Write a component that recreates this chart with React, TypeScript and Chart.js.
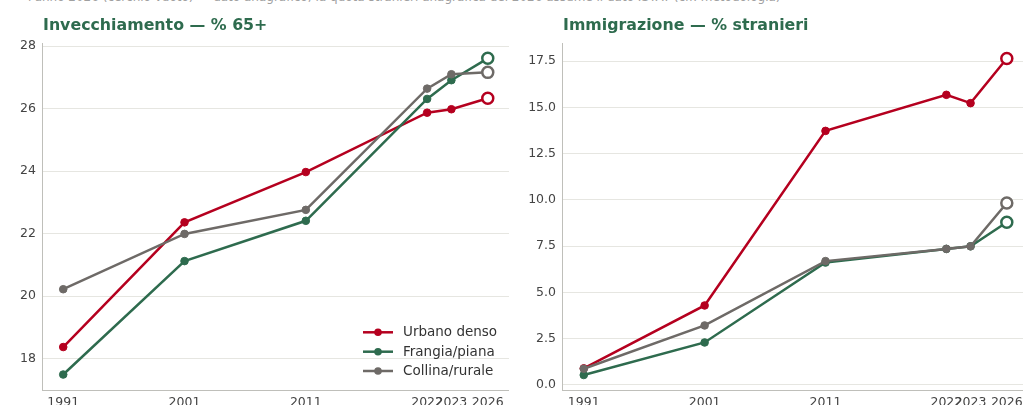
import React, { useEffect, useRef } from "react";
import { Chart, registerables } from "chart.js";

Chart.register(...registerables);

const positions = [0, 1, 2, 3, 3.2, 3.5];
const yearLabels = ["1991", "2001", "2011", "2022", "2023", "2026"];
const seriesNames = ["Urbano denso", "Frangia/piana", "Collina/rurale"];
const seriesColors = ["#b5001f", "#2e6b4e", "#6e6a67"];

const agingUrbano = [18.37, 22.36, 23.97, 25.87, 25.98, 26.33];
const agingFrangia = [17.49, 21.12, 22.41, 26.31, 26.91, 27.61];
const agingCollina = [20.22, 21.99, 22.76, 26.64, 27.1, 27.16];

const foreignUrbano = [0.89, 4.29, 13.73, 15.68, 15.23, 17.64];
const foreignFrangia = [0.53, 2.29, 6.61, 7.35, 7.49, 8.79];
const foreignCollina = [0.87, 3.21, 6.69, 7.35, 7.49, 9.83];

const agingTicks = [18, 20, 22, 24, 26, 28];
const foreignTicks = [0, 2.5, 5, 7.5, 10, 12.5, 15, 17.5];

const FONT = "'DejaVu Sans', sans-serif";

function makeDatasets(series: number[][]) {
  return series.map((vals, i) => {
    const last = vals.length - 1;
    return {
      label: seriesNames[i],
      data: vals.map((v, j) => ({ x: positions[j], y: v })),
      borderColor: seriesColors[i],
      backgroundColor: seriesColors[i],
      borderWidth: 2.5,
      tension: 0,
      order: 3 - i,
      pointRadius: (c: any) => (c.dataIndex === last ? 5.5 : 3.8),
      pointBorderWidth: (c: any) => (c.dataIndex === last ? 2.5 : 1),
      pointBackgroundColor: (c: any) => (c.dataIndex === last ? "#ffffff" : seriesColors[i]),
      pointBorderColor: seriesColors[i],
      pointHoverRadius: 5,
    };
  });
}

function makeConfig(opts: {
  series: number[][];
  title: string;
  yTicks: number[];
  yMin: number;
  yMax: number;
  xMin: number;
  xMax: number;
  yWidth: number;
  top: number;
  decimals: number;
  legend: boolean;
}): any {
  const titlePlugin = {
    id: "panelTitle",
    afterDraw(chart: any) {
      const ctx = chart.ctx;
      ctx.save();
      ctx.font = `bold 15.8px ${FONT}`;
      ctx.fillStyle = "#2e6b4e";
      ctx.textAlign = "left";
      ctx.textBaseline = "alphabetic";
      ctx.fillText(opts.title, chart.chartArea.left + 1, 29.5);
      if (opts.legend) {
        const x0 = 363;
        const ys = [332.3, 351.7, 371];
        ctx.font = `13.5px ${FONT}`;
        seriesNames.forEach((name, i) => {
          const y = ys[i];
          ctx.strokeStyle = seriesColors[i];
          ctx.lineWidth = 2.5;
          ctx.beginPath();
          ctx.moveTo(x0, y);
          ctx.lineTo(x0 + 30, y);
          ctx.stroke();
          ctx.fillStyle = seriesColors[i];
          ctx.beginPath();
          ctx.arc(x0 + 15, y, 3.8, 0, Math.PI * 2);
          ctx.fill();
          ctx.fillStyle = "#333333";
          ctx.textBaseline = "middle";
          ctx.fillText(name, x0 + 40, y + 0.5);
        });
      }
      ctx.restore();
    },
  };

  return {
    type: "line",
    data: { datasets: makeDatasets(opts.series) },
    plugins: [titlePlugin],
    options: {
      animation: false,
      responsive: false,
      maintainAspectRatio: false,
      layout: { padding: { top: opts.top, left: 0, right: 0, bottom: 0 }, autoPadding: false },
      plugins: { legend: { display: false }, tooltip: { enabled: false }, title: { display: false } },
      scales: {
        x: {
          type: "linear",
          min: opts.xMin,
          max: opts.xMax,
          afterBuildTicks: (s: any) => {
            s.ticks = positions.map((v) => ({ value: v }));
          },
          afterFit: (s: any) => {
            s.height = 15;
          },
          grid: { display: false },
          border: { display: true, color: "#bfbfba", width: 1 },
          ticks: {
            autoSkip: false,
            maxRotation: 0,
            minRotation: 0,
            padding: -3,
            color: "#444444",
            font: { family: FONT, size: 12.5 },
            callback: (v: any) => {
              const idx = positions.indexOf(Number(v));
              return idx >= 0 ? yearLabels[idx] : "";
            },
          },
        },
        y: {
          type: "linear",
          min: opts.yMin,
          max: opts.yMax,
          afterBuildTicks: (s: any) => {
            s.ticks = opts.yTicks.map((v) => ({ value: v }));
          },
          afterFit: (s: any) => {
            s.width = opts.yWidth;
          },
          grid: { display: true, color: "#e6e6e1", lineWidth: 1, drawTicks: false, tickLength: 0 },
          border: { display: true, color: "#bfbfba", width: 1 },
          ticks: {
            padding: 6,
            color: "#444444",
            font: { family: FONT, size: 12.5 },
            callback: (v: any) => Number(v).toFixed(opts.decimals),
          },
        },
      },
    },
  };
}

export default function App() {
  const leftRef = useRef<HTMLCanvasElement | null>(null);
  const rightRef = useRef<HTMLCanvasElement | null>(null);

  useEffect(() => {
    const left = new Chart(
      leftRef.current as HTMLCanvasElement,
      makeConfig({
        series: [agingUrbano, agingFrangia, agingCollina],
        title: "Invecchiamento — % 65+",
        yTicks: agingTicks,
        yMin: 16.995,
        yMax: 28.1,
        xMin: -0.175,
        xMax: 3.675,
        yWidth: 42,
        top: 43,
        decimals: 0,
        legend: true,
      })
    );
    const right = new Chart(
      rightRef.current as HTMLCanvasElement,
      makeConfig({
        series: [foreignUrbano, foreignFrangia, foreignCollina],
        title: "Immigrazione — % stranieri",
        yTicks: foreignTicks,
        yMin: -0.28,
        yMax: 18.45,
        xMin: -0.18,
        xMax: 3.634,
        yWidth: 47,
        top: 43.6,
        decimals: 1,
        legend: false,
      })
    );
    return () => {
      left.destroy();
      right.destroy();
    };
  }, []);

  return (
    <div
      style={{
        position: "fixed",
        left: 0,
        top: 0,
        width: 1023,
        height: 405,
        overflow: "hidden",
        background: "#ffffff",
        fontFamily: FONT,
      }}
    >
      <div
        style={{
          position: "absolute",
          left: 28,
          top: -10,
          fontSize: 12,
          lineHeight: "14px",
          color: "#a0a0a0",
          whiteSpace: "nowrap",
        }}
      >
        l'anno 2026 (cerchio vuoto) — dato anagrafico; la quota stranieri anagrafica del 2026 assume il dato ISTAT (cfr. metodologia)
      </div>
      <canvas
        ref={leftRef}
        width={509}
        height={405}
        style={{ position: "absolute", left: 0, top: 0, width: 509, height: 405 }}
      />
      <canvas
        ref={rightRef}
        width={508}
        height={405}
        style={{ position: "absolute", left: 515, top: 0, width: 508, height: 405 }}
      />
    </div>
  );
}
